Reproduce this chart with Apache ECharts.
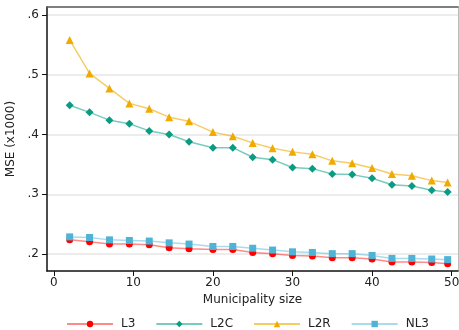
<!DOCTYPE html>
<html>
<head>
<meta charset="utf-8">
<script src="https://cdn.jsdelivr.net/npm/echarts@6/dist/echarts.min.js"></script>
<style>
html,body{margin:0;padding:0;background:#fff;}
#c{width:459px;height:330px;}
</style>
</head>
<body>
<div id="c"></div>
<script>
var sizes = [2, 4.5, 7, 9.5, 12, 14.5, 17, 20, 22.5, 25, 27.5, 30, 32.5, 35, 37.5, 40, 42.5, 45, 47.5, 49.5];
var L3  = [0.224, 0.221, 0.217, 0.217, 0.216, 0.211, 0.209, 0.208, 0.208, 0.203, 0.201, 0.198, 0.197, 0.194, 0.194, 0.192, 0.187, 0.187, 0.186, 0.184];
var L2C = [0.449, 0.437, 0.424, 0.418, 0.406, 0.400, 0.388, 0.378, 0.378, 0.362, 0.358, 0.345, 0.343, 0.334, 0.333, 0.327, 0.316, 0.314, 0.307, 0.304];
var L2R = [0.558, 0.502, 0.477, 0.452, 0.443, 0.429, 0.422, 0.404, 0.397, 0.386, 0.377, 0.371, 0.367, 0.356, 0.352, 0.344, 0.334, 0.331, 0.323, 0.320];
var NL3 = [0.229, 0.228, 0.224, 0.223, 0.222, 0.219, 0.217, 0.213, 0.213, 0.210, 0.207, 0.204, 0.203, 0.201, 0.201, 0.198, 0.193, 0.193, 0.192, 0.191];
var xTicks = [0, 10, 20, 30, 40, 50];
var yTicks = [0.2, 0.3, 0.4, 0.5, 0.6];

function pairs(ys){ return sizes.map(function(x,i){ return [x, ys[i]]; }); }
var font = 'DejaVu Sans';
function mk(name, data, color, lineColor, symbol, size){
  return {
    name: name, type: 'line', data: pairs(data),
    symbol: symbol, symbolSize: size, showSymbol: true,
    itemStyle: {color: color},
    lineStyle: {color: lineColor, width: 1.5},
    emphasis: {disabled: true}, animation: false, z: 3
  };
}
var chart = echarts.init(document.getElementById('c'), null, {renderer: 'canvas'});
chart.setOption({
  animation: false,
  grid: {left: 47, top: 7, right: 1, bottom: 59, containLabel: false, outerBoundsMode: 'none', show: false},
  legend: {
    left: 66, bottom: 0, padding: 0, itemWidth: 46, itemHeight: 8, itemGap: 20,
    textStyle: {fontFamily: font, fontSize: 12, color: '#222', padding: [0, 0, 0, 3]},
    data: ['L3', 'L2C', 'L2R', 'NL3']
  },
  xAxis: [{
    type: 'value', min: -0.85, max: 50.8,
    name: 'Municipality size', nameLocation: 'middle', nameGap: 21,
    nameTextStyle: {fontFamily: font, fontSize: 12, color: '#222'},
    axisLine: {show: true, onZero: false, lineStyle: {color: '#111', width: 1.5}},
    axisTick: {show: true, customValues: xTicks, length: 5, lineStyle: {color: '#111', width: 1}},
    axisLabel: {customValues: xTicks, fontFamily: font, fontSize: 12, color: '#222', margin: 6},
    splitLine: {show: false}
  }, {
    type: 'value', position: 'top', min: -0.85, max: 50.8,
    axisLine: {show: true, onZero: false, lineStyle: {color: '#555', width: 1.5}},
    axisTick: {show: false}, axisLabel: {show: false}, splitLine: {show: false}
  }],
  yAxis: [{
    type: 'value', min: 0.172, max: 0.613,
    name: 'MSE (x1000)', nameLocation: 'middle', nameGap: 27,
    nameTextStyle: {fontFamily: font, fontSize: 12, color: '#222'},
    axisLine: {show: true, onZero: false, lineStyle: {color: '#111', width: 1.5}},
    axisTick: {show: true, customValues: yTicks, length: 5, lineStyle: {color: '#111', width: 1}},
    axisLabel: {customValues: yTicks, fontFamily: font, fontSize: 12, color: '#222', margin: 8,
      formatter: function(v){ return v.toFixed(1).replace(/^0/, ''); }},
    splitLine: {show: true, lineStyle: {color: '#e6e6e6', width: 1.5}}
  }, {
    type: 'value', position: 'right', min: 0.172, max: 0.613,
    axisLine: {show: true, onZero: false, lineStyle: {color: '#bbb', width: 1}},
    axisTick: {show: false}, axisLabel: {show: false}, splitLine: {show: false}
  }],
  series: [
    mk('L3', L3, '#ff0000', 'rgba(255,60,60,0.6)', 'circle', 7),
    mk('L2C', L2C, '#0a9b82', 'rgba(10,160,135,0.55)', 'diamond', 8),
    mk('L2R', L2R, '#f0aa00', 'rgba(240,170,0,0.6)', 'triangle', 8),
    mk('NL3', NL3, '#4fb3d6', 'rgba(100,190,220,0.55)', 'rect', 7)
  ]
});
</script>
</body>
</html>
